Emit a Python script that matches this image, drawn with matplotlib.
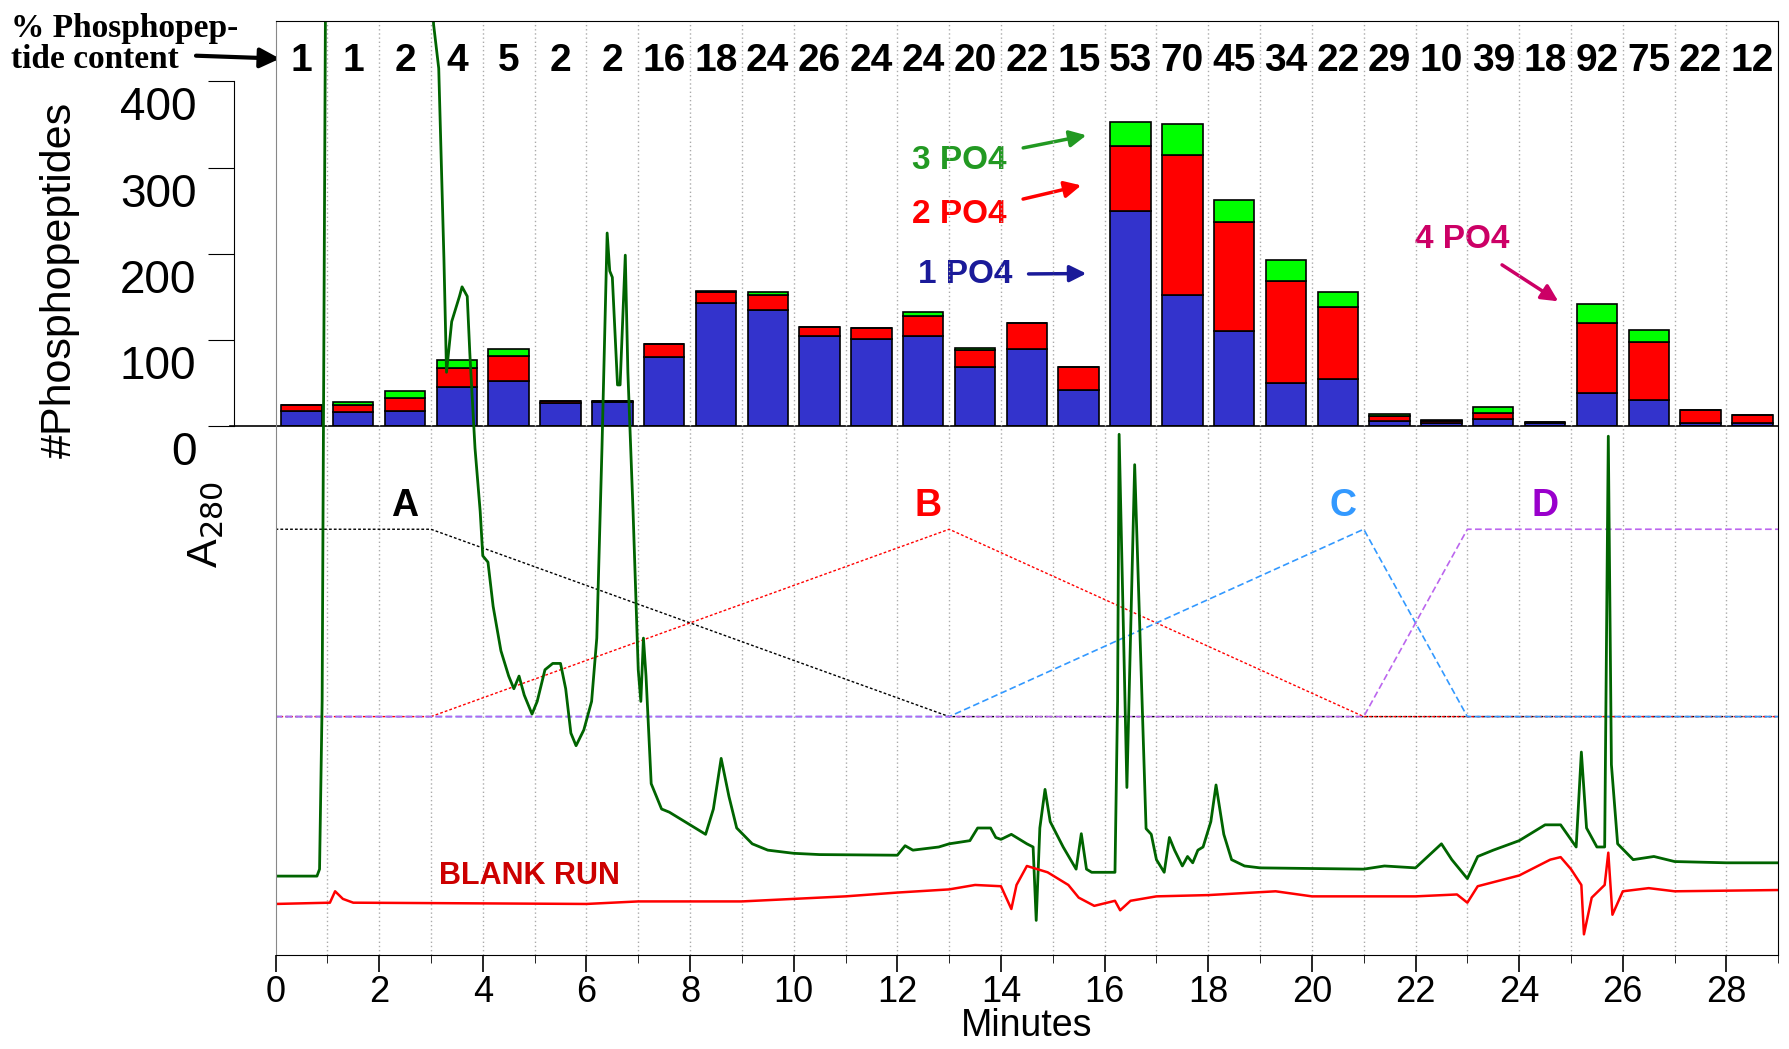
import numpy as np
import matplotlib.pyplot as plt
import matplotlib.transforms as mtransforms

plt.rcParams['font.family'] = ['Liberation Sans', 'DejaVu Sans']

# --- bar data (one fraction per minute) ---
pct = [1, 1, 2, 4, 5, 2, 2, 16, 18, 24, 26, 24, 24, 20, 22, 15, 53, 70, 45, 34,
       22, 29, 10, 39, 18, 92, 75, 22, 12]
po4_1 = [18, 16, 17, 45, 52, 27, 28, 80, 143, 135, 105, 101, 105, 68, 90, 42,
         250, 152, 110, 50, 55, 6, 3, 8, 3, 38, 30, 4, 3]
po4_2 = [7, 9, 15, 22, 29, 2, 1, 15, 13, 17, 10, 13, 23, 20, 30, 26,
         75, 163, 127, 118, 83, 6, 3, 7, 2, 82, 68, 15, 10]
po4_3 = [0, 3, 9, 10, 8, 0, 0, 0, 1, 3, 0, 0, 4, 3, 0, 0,
         28, 35, 25, 25, 17, 2, 1, 7, 0, 22, 14, 0, 0]

# --- chromatogram (A280, arbitrary units) ---
sample_t = [0, 0.8, 0.85, 0.9, 0.97, 1.0, 3.0, 3.05, 3.15, 3.25, 3.3, 3.4, 3.55, 3.6,
            3.7, 3.75, 3.85, 3.95, 4.0, 4.1, 4.2, 4.35, 4.5, 4.6, 4.7, 4.8, 4.95, 5.05,
            5.2, 5.35, 5.5, 5.6, 5.7, 5.8, 5.95, 6.1, 6.2, 6.3, 6.4, 6.45, 6.5, 6.6,
            6.65, 6.75, 6.8, 6.9, 7.0, 7.05, 7.1, 7.15, 7.25, 7.45, 7.6, 7.8, 8.0, 8.3,
            8.45, 8.6, 8.75, 8.9, 9.2, 9.5, 10, 10.5, 12.0, 12.15, 12.3, 12.8, 13.0,
            13.4, 13.55, 13.8, 13.9, 14.0, 14.2, 14.5, 14.62, 14.68, 14.75, 14.85,
            14.95, 15.2, 15.45, 15.55, 15.65, 15.75, 16.2, 16.25, 16.28, 16.43, 16.58,
            16.8, 16.9, 17.0, 17.15, 17.25, 17.35, 17.5, 17.6, 17.7, 17.8, 17.9, 18.05,
            18.15, 18.3, 18.45, 18.7, 19.0, 20, 21, 21.4, 22.0, 22.5, 22.7, 23.0, 23.2,
            23.5, 24, 24.5, 24.8, 25.1, 25.2, 25.3, 25.5, 25.65, 25.72, 25.78, 25.9,
            26.2, 26.6, 27, 28, 29]
sample_a = [124, 124, 135, 400, 1600, 1600, 1600, 1470, 1400, 1100, 920, 1000, 1040, 1055,
            1040, 950, 800, 700, 630, 620, 550, 480, 440, 420, 440, 410, 380, 400,
            450, 460, 460, 420, 350, 330, 355, 400, 500, 800, 1140, 1080, 1070, 900,
            900, 1105, 920, 700, 450, 400, 500, 440, 270, 230, 225, 215, 205, 190,
            230, 310, 250, 200, 175, 165, 160, 158, 157, 172, 165, 170, 175,
            180, 200, 200, 185, 182, 190, 175, 170, 54, 200, 261,
            210, 170, 135, 191, 135, 130, 130, 400, 822, 264, 774,
            199, 190, 150, 130, 185, 165, 140, 155, 145, 165, 170, 210,
            268, 190, 150, 140, 137, 136, 135, 140, 137, 175, 150, 120, 155,
            165, 180, 205, 205, 170, 320, 200, 170, 170, 819, 300, 175,
            150, 155, 147, 145, 145]
blank_t = [0, 1.05, 1.15, 1.3, 1.5, 6, 7, 9, 10, 11, 12, 13, 13.5, 14.0, 14.2, 14.3,
           14.5, 14.9, 15.3, 15.5, 15.8, 16.2, 16.3, 16.5, 17, 18, 19.3, 20, 22, 22.8,
           23, 23.2, 24, 24.6, 24.8, 25.0, 25.2, 25.25, 25.4, 25.65, 25.72, 25.8, 26,
           26.5, 27, 29]
blank_a = [80, 82, 100, 88, 82, 80, 84, 84, 88, 92, 98, 103, 110, 108, 72, 110,
           140, 130, 110, 90, 77, 85, 70, 85, 92, 94, 100, 92, 92, 95,
           82, 108, 125, 150, 154, 135, 110, 32, 90, 110, 161, 63, 100,
           105, 100, 102]

# gradient programme (solvents A-D)
grad_t = [0, 3, 13, 21, 23, 29]
grad_A = [1, 1, 0, 0, 0, 0]
grad_B = [0, 0, 1, 0, 0, 0]
grad_C = [0, 0, 0, 1, 0, 0]
grad_D = [0, 0, 0, 0, 1, 1]
LOW, HIGH = 376, 672

fig = plt.figure(figsize=(17.89, 10.49), dpi=100)
L, R, B, T = 0.154, 0.994, 0.09, 0.98
ax = fig.add_axes([L, B, R - L, T - B])
ax.set_xlim(0, 29)
ax.set_ylim(0, 1475)
ax.set_facecolor('none')
ax.set_zorder(3)
ax.spines['left'].set_color('#888888')
ax.set_yticks([])
ax.set_xticks(range(0, 29, 2))
ax.set_xticks(range(0, 30), minor=True)
ax.tick_params(axis='x', which='major', labelsize=26, length=12, width=1.2, pad=3)
ax.tick_params(axis='x', which='minor', length=6)
for m in range(1, 29):
    ax.axvline(m, color='#aaaaaa', ls=(0, (1, 2)), lw=1, zorder=0)
ax.set_xlabel('Minutes', fontsize=27, labelpad=-2)

for vals, col, ls, lw in [(grad_A, 'black', (0, (2, 1.5)), 1), (grad_B, 'red', (0, (2, 1.5)), 1),
                          (grad_C, '#3399ff', (0, (4, 2)), 1.2), (grad_D, '#bb66ee', (0, (4, 2)), 1.2)]:
    ax.plot(grad_t, [LOW + v * (HIGH - LOW) for v in vals], color=col, ls=ls, lw=lw)
for lab, x, col in [('A', 2.5, 'black'), ('B', 12.6, 'red'), ('C', 20.6, '#3399ff'), ('D', 24.5, '#9900cc')]:
    ax.text(x, HIGH + 8, lab, color=col, fontsize=27, fontweight='bold', ha='center', va='bottom')

ax.plot(sample_t, sample_a, color='#006400', lw=2)
ax.plot(blank_t, blank_a, color='#ff0000', lw=1.8)
ax.text(4.9, 100, 'BLANK RUN', color='#cc0000', fontsize=22, fontweight='bold', ha='center', va='bottom')

# --- bar panel ---
bb = B + 835 / 1475 * (T - B)
bx = fig.add_axes([L, bb, R - L, T - bb])
bx.set_zorder(2)
bx.set_xlim(0, 29)
bx.set_ylim(0, 470)
for s in ['top', 'right', 'bottom']:
    bx.spines[s].set_visible(False)
bx.spines['left'].set_position(('outward', 30))
bx.spines['left'].set_bounds(0, 400)
bx.set_xticks([])
bx.set_yticks([0, 100, 200, 300, 400])
bx.tick_params(axis='y', labelsize=33, length=19, pad=8)
off = mtransforms.ScaledTranslation(0, -0.22, fig.dpi_scale_trans)
for lbl in bx.get_yticklabels():
    lbl.set_transform(lbl.get_transform() + off)
bx.axhline(0, xmin=-0.03, color='black', lw=1.2, clip_on=False)

xs = np.arange(len(pct)) + 0.5
b1 = np.array(po4_1)
b2 = np.array(po4_2)
b3 = np.array(po4_3)
kw = dict(width=0.78, edgecolor='black', linewidth=1.2)
bx.bar(xs, b1, color='#3333cc', **kw)
bx.bar(xs, b2, bottom=b1, color='#ff0000', **kw)
bx.bar(xs, b3, bottom=b1 + b2, color='#00ff00', **kw)
for x, p in zip(xs, pct):
    bx.text(x, 445, str(p), ha='center', va='top', fontsize=28, fontweight='bold')

bx.set_ylabel('#Phosphopeptides', fontsize=31)
bx.yaxis.set_label_coords(-0.13, 0.36)
fig.text(0.115, 0.50, 'A$_{280}$', rotation=90, fontsize=31, ha='center', va='center')

for lab, col, xy, xt in [('3 PO4', '#229922', (15.7, 338), (13.2, 308)),
                         ('2 PO4', '#ff0000', (15.6, 280), (13.2, 246)),
                         ('1 PO4', '#1a1a99', (15.7, 177), (13.3, 176)),
                         ('4 PO4', '#cc0066', (24.8, 143), (22.9, 217))]:
    bx.annotate(lab, xy=xy, xytext=xt, color=col, fontsize=24, fontweight='bold',
                ha='center', va='center',
                arrowprops=dict(arrowstyle='-|>', color=col, lw=2.5, mutation_scale=25, shrinkA=10))

fig.text(0.006, 0.988, '% Phosphopep-\ntide content', fontsize=24, fontweight='bold',
         family=['Liberation Serif'], ha='left', va='top', linespacing=1.0)
fig.patches.append(plt.matplotlib.patches.FancyArrowPatch(
    (0.108, 0.947), (0.158, 0.944), transform=fig.transFigure, arrowstyle='-|>',
    mutation_scale=30, lw=3, color='black'))

fig.savefig('out.png', dpi=100)
